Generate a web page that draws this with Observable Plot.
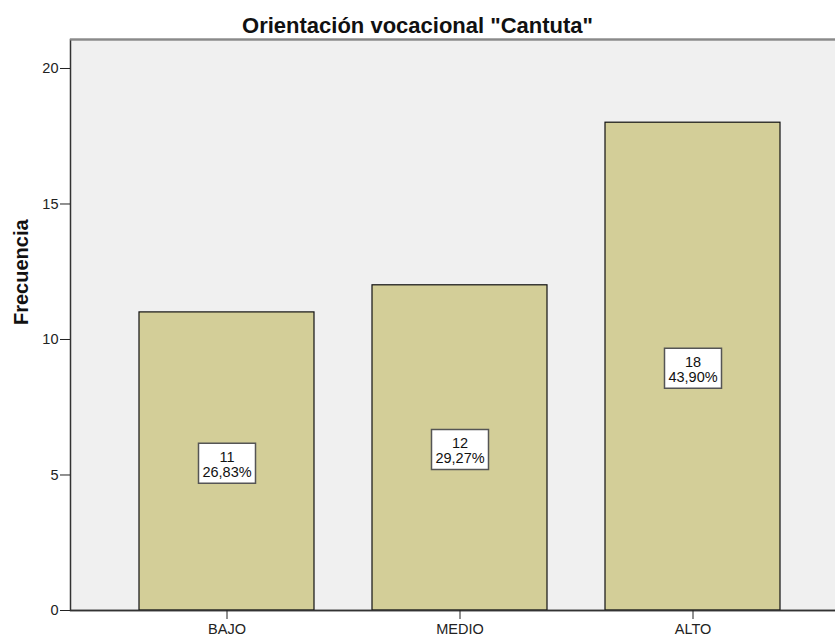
<!DOCTYPE html>
<html><head><meta charset="utf-8">
<script src="https://cdn.jsdelivr.net/npm/d3@7"></script>
<script src="https://cdn.jsdelivr.net/npm/@observablehq/plot@0.6"></script>
<style>
body{margin:0;background:#fff;font-family:"Liberation Sans",Arial,sans-serif;}
#title{height:38px;box-sizing:border-box;padding-top:13px;line-height:25px;font-size:22px;font-weight:bold;text-align:center;width:835px;color:#111;white-space:nowrap;}
</style></head><body>
<div id="chart"><div id="title"></div></div>
<script>
const title = 'Orientación vocacional "Cantuta"';
const categories = ["BAJO", "MEDIO", "ALTO"];
const counts = [11, 12, 18];
const percentLabels = ["26,83%", "29,27%", "43,90%"];
const yTicks = [0, 5, 10, 15, 20];
const yLabel = "Frecuencia";
const yMax = 21.07;

const data = categories.map((c, i) => ({cat: c, n: counts[i], pct: percentLabels[i]}));

document.getElementById("title").textContent = title;

const boxSymbol = {
  draw(context) {
    context.rect(-28.5, -20, 57, 40);
  }
};

const chart = Plot.plot({
  width: 835,
  height: 599,
  marginTop: 1,
  marginBottom: 27,
  marginLeft: 70,
  marginRight: -1,
  style: {fontFamily: "Liberation Sans, Arial, sans-serif", color: "#222", background: "transparent"},
  x: {domain: categories, range: [70, 849.4], paddingInner: 0.251, paddingOuter: 0.293},
  y: {domain: [0, yMax]},
  marks: [
    Plot.frame({fill: "#f0f0f0", stroke: "#333", strokeWidth: 1.5}),
    Plot.ruleY([yMax], {stroke: "#8a8a8a", strokeWidth: 2}),
    Plot.barY(data, {x: "cat", y: "n", fill: "#d3ce98", stroke: "#111", strokeWidth: 1.2}),
    Plot.ruleY([0], {stroke: "#333", strokeWidth: 1.5}),
    Plot.dot(data, {x: "cat", y: d => d.n / 2, symbol: boxSymbol, fill: "white", stroke: "#555", strokeWidth: 1.5, dy: 1.7}),
    Plot.text(data, {x: "cat", y: d => d.n / 2, text: d => `${d.n}\n${d.pct}`, fontSize: 14.5, lineHeight: 1.03, dy: 3, fill: "#111"}),
    Plot.axisY({ticks: yTicks, tickSize: 10, tickPadding: 2, fontSize: 14.5, label: null}),
    Plot.axisX({tickSize: 9, tickPadding: 4, fontSize: 14.5, label: null}),
    Plot.text([yLabel], {frameAnchor: "left", rotate: -90, dx: -57, lineAnchor: "top", fontSize: 20, fontWeight: "bold", fill: "#111"})
  ]
});
document.getElementById("chart").appendChild(chart);
</script>
</body></html>
